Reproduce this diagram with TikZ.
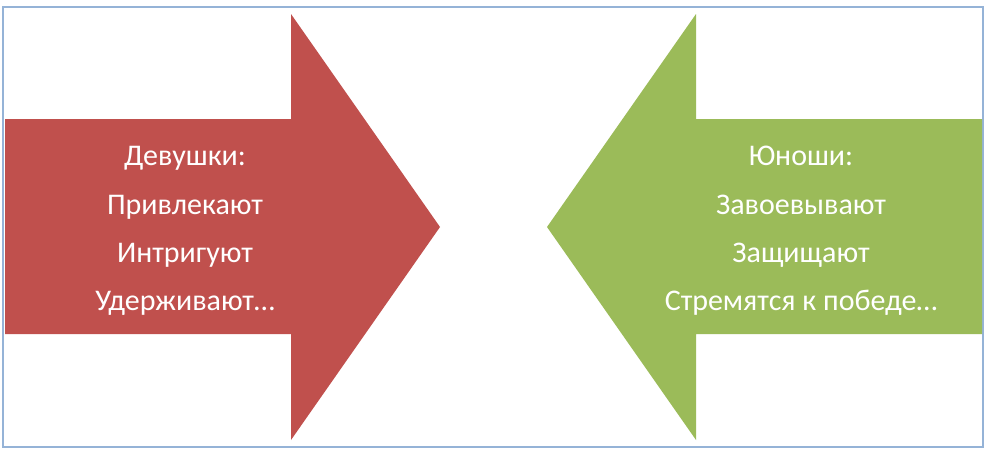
\documentclass[tikz,border=0pt]{standalone}
\usepackage{fontspec}
\setmainfont{Carlito}
\definecolor{arrowred}{HTML}{C0504D}
\definecolor{arrowgreen}{HTML}{9BBB59}
\definecolor{frameblue}{HTML}{95B3D7}

\begin{document}
\begin{tikzpicture}[x=1pt, y=1pt,
    label text/.style={white, anchor=base, font=\fontsize{30}{34}\selectfont}]
    \useasboundingbox (0,0) rectangle (986,-453);
    \draw[frameblue, line width=1.5pt] (3,-7) rectangle (983,-447);

    \fill[arrowred] (5,-119) -- (291,-119) -- (291,-14) -- (440,-227)
        -- (291,-440) -- (291,-334) -- (5,-334) -- cycle;
    \fill[arrowgreen] (982,-119) -- (696,-119) -- (696,-14) -- (547,-227)
        -- (696,-440) -- (696,-334) -- (982,-334) -- cycle;

    \node[label text] (girls) at (185,-165) {Девушки:};
    \node[label text] (attract) at (185,-214) {Привлекают};
    \node[label text] (intrigue) at (185,-262) {Интригуют};
    \node[label text] (hold) at (185,-310) {Удерживают…};

    \node[label text] (boys) at (801,-165) {Юноши:};
    \node[label text] (conquer) at (801,-214) {Завоевывают};
    \node[label text] (protect) at (801,-262) {Защищают};
    \node[label text] (strive) at (801,-310) {Стремятся к победе…};
\end{tikzpicture}
\end{document}
